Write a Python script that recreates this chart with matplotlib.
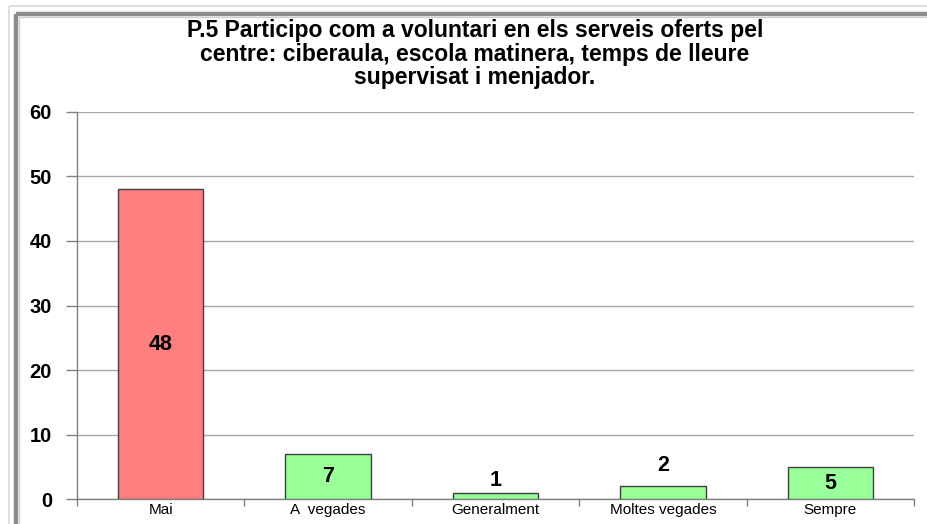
import matplotlib
matplotlib.use("Agg")
import matplotlib.pyplot as plt
from matplotlib.lines import Line2D

categories = ["Mai", "A  vegades", "Generalment", "Moltes vegades", "Sempre"]
values = [48, 7, 1, 2, 5]
bar_colors = ["#FF7F7F", "#99FF99", "#99FF99", "#99FF99", "#99FF99"]
y_ticks = [0, 10, 20, 30, 40, 50, 60]
title = ("P.5 Participo com a voluntari en els serveis oferts pel\n"
         "centre: ciberaula, escola matinera, temps de lleure\n"
         "supervisat i menjador.")

plt.rcParams['font.family'] = ['Liberation Sans', 'DejaVu Sans']

W, H = 928, 524
fig = plt.figure(figsize=(W / 100, H / 100), dpi=100)
fig.patch.set_facecolor("white")

# frame lines (cropped chart border)
def fline(x0, y0, x1, y1, color, lw):
    fig.add_artist(Line2D([x0 / W, x1 / W], [1 - y0 / H, 1 - y1 / H],
                          transform=fig.transFigure, color=color, lw=lw,
                          solid_capstyle='butt'))

fline(9, 6, 9, H, "#d8d8d8", 1.2)
fline(9, 6, W, 6, "#d8d8d8", 1.2)
fline(16, 14, 16, H, "#8c8c8c", 3.2)
fline(16, 14, W, 14, "#8c8c8c", 3.2)
fline(19.5, 17, 19.5, H, "#d0d0d0", 1.0)
fline(19.5, 17, W, 17, "#d0d0d0", 1.0)

ax = fig.add_axes([77 / W, 1 - 499.3 / H, 837 / W, (499.3 - 111.7) / H])
x = list(range(len(categories)))
ax.bar(x, values, width=0.51, color=bar_colors, edgecolor="#404040",
       linewidth=1.0, zorder=3)

ax.set_xlim(-0.5, len(categories) - 0.5)
ax.set_ylim(0, 60)
ax.set_yticks(y_ticks)
ax.set_yticklabels([str(t) for t in y_ticks], fontsize=14.5, fontweight='bold')
ax.set_xticks(x)
ax.set_xticklabels(categories, fontsize=11)
ax.set_xticks([i - 0.5 for i in range(len(categories) + 1)], minor=True)
ax.tick_params(axis='x', which='major', length=0, pad=3)
ax.tick_params(axis='x', which='minor', length=5, color="#808080", width=1)
ax.tick_params(axis='y', which='major', length=8, color="#808080", width=1, pad=10)

ax.grid(axis='y', color="#a6a6a6", linewidth=1, zorder=0)
for s in ['top', 'right']:
    ax.spines[s].set_visible(False)
for s in ['left', 'bottom']:
    ax.spines[s].set_color("#808080")
    ax.spines[s].set_linewidth(1)

above_offsets = {2: 12, 3: 21}
for i, v in enumerate(values):
    if i in above_offsets:
        ax.annotate(str(v), (i, v), xytext=(0, above_offsets[i]),
                    textcoords='offset pixels', ha='center', va='center',
                    fontsize=15.5, fontweight='bold', zorder=4)
    else:
        ax.text(i, v / 2, str(v), ha='center', va='center',
                fontsize=15.5, fontweight='bold', zorder=4)

fig.text(475 / W, 1 - 54 / H, title, ha='center', va='center',
         fontsize=16.5, fontweight='bold', linespacing=1.02)

fig.savefig("out.png", dpi=100, facecolor=fig.get_facecolor())
